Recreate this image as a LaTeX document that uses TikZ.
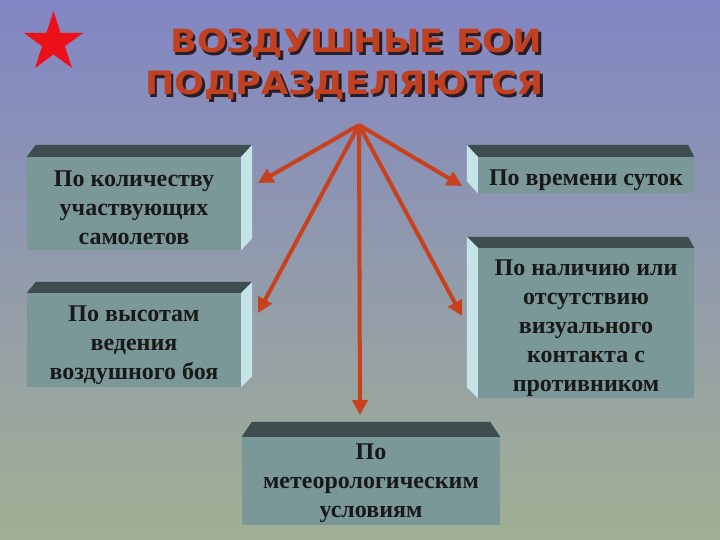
\documentclass[tikz,border=0pt]{standalone}
\usepackage{fontspec}
\setmainfont{Liberation Serif}
\newfontfamily\titlefont[FakeStretch=1.1]{DejaVu Sans}
\newfontfamily\boxfont{Liberation Serif}
\usetikzlibrary{arrows.meta}
\definecolor{bgtop}{RGB}{130,134,196}
\definecolor{bgbot}{RGB}{160,176,148}
\definecolor{frontc}{RGB}{122,152,152}
\definecolor{topc}{RGB}{62,78,78}
\definecolor{sidec}{RGB}{196,228,232}
\definecolor{arrowc}{RGB}{200,64,28}
\definecolor{titlec}{RGB}{192,64,32}
\definecolor{shadowc}{RGB}{40,30,40}
\definecolor{starc}{RGB}{236,16,24}
\newcommand\shadowed[1]{\makebox[0pt][l]{\hspace{2.5pt}\raisebox{-2.5pt}{\color{shadowc}#1}}#1}
\tikzset{
  frontbox/.style={fill=frontc, inner sep=0pt},
  boxtext/.style={inner sep=0pt, align=center, text=black!90,
    font=\boxfont\bfseries\fontsize{24}{29}\selectfont},
  topface/.style={fill=topc},
  sideface/.style={fill=sidec},
  arr/.style={draw=arrowc, line width=4pt, -{Triangle[length=15pt,width=15pt]}},
  titletext/.style={text=titlec, inner sep=0pt, font=\titlefont\bfseries\fontsize{32}{36}\selectfont},
}
\begin{document}
\begin{tikzpicture}[x=1pt,y=-1pt]
\useasboundingbox (0,0) rectangle (720,540);
\shade[top color=bgtop, bottom color=bgbot] (0,0) rectangle (720,540);

% star
\begin{scope}[shift={(53.5,42.5)}]
\fill[starc] (-90:31.5) -- (-54:12) -- (-18:31.5) -- (18:12) -- (54:31.5) -- (90:12)
  -- (126:31.5) -- (162:12) -- (198:31.5) -- (234:12) -- cycle;
\end{scope}

% title
\node[titletext, anchor=base west] (t1) at (170,53) {\shadowed{ВОЗДУШНЫЕ БОИ}};
\node[titletext, anchor=base west] (t2) at (145,95) {\shadowed{ПОДРАЗДЕЛЯЮТСЯ}};

% boxes
\node[frontbox, minimum width=214pt, minimum height=93pt] (b1) at (134,203.5) {};
\fill[topface] (b1.north west) -- ([shift={(9,-12)}]b1.north west) -- ([shift={(11,-12)}]b1.north east) -- (b1.north east) -- cycle;
\fill[sideface] (b1.north east) -- ([shift={(11,-12)}]b1.north east) -- ([shift={(11,-12)}]b1.south east) -- (b1.south east) -- cycle;
\node[boxtext] (b1t) at ([shift={(0,4)}]b1.center) {По количеству\\участвующих\\самолетов};

\node[frontbox, minimum width=214pt, minimum height=94pt] (b2) at (134,340) {};
\fill[topface] (b2.north west) -- ([shift={(9,-11)}]b2.north west) -- ([shift={(11,-11)}]b2.north east) -- (b2.north east) -- cycle;
\fill[sideface] (b2.north east) -- ([shift={(11,-11)}]b2.north east) -- ([shift={(11,-11)}]b2.south east) -- (b2.south east) -- cycle;
\node[boxtext] (b2t) at ([shift={(0,5)}]b2.center) {По высотам\\ведения\\воздушного боя};

\node[frontbox, minimum width=216pt, minimum height=36pt] (b3) at (586,175) {};
\fill[topface] (b3.north west) -- ([shift={(-11,-12)}]b3.north west) -- ([shift={(-6,-12)}]b3.north east) -- (b3.north east) -- cycle;
\fill[sideface] (b3.north west) -- ([shift={(-11,-12)}]b3.north west) -- ([shift={(-11,-12)}]b3.south west) -- (b3.south west) -- cycle;
\node[boxtext] (b3t) at ([shift={(0,5)}]b3.center) {По времени суток};

\node[frontbox, minimum width=216pt, minimum height=150pt] (b4) at (586,323) {};
\fill[topface] (b4.north west) -- ([shift={(-11,-11)}]b4.north west) -- ([shift={(-6,-11)}]b4.north east) -- (b4.north east) -- cycle;
\fill[sideface] (b4.north west) -- ([shift={(-11,-11)}]b4.north west) -- ([shift={(-11,-11)}]b4.south west) -- (b4.south west) -- cycle;
\node[boxtext] (b4t) at ([shift={(0,5)}]b4.center) {По наличию или\\отсутствию\\визуального\\контакта с\\противником};

\node[frontbox, minimum width=258pt, minimum height=88pt] (b5) at (371,481) {};
\fill[topface] (b5.north west) -- ([shift={(10,-15)}]b5.north west) -- ([shift={(-10,-15)}]b5.north east) -- (b5.north east) -- cycle;
\node[boxtext] (b5t) at ([shift={(0,2)}]b5.center) {По\\метеорологическим\\условиям};

% arrows
\coordinate (apex) at (359,125);
\coordinate (e1) at (258,183);
\coordinate (e2) at (258,313);
\coordinate (e3) at (360,415);
\coordinate (e4) at (462,186);
\coordinate (e5) at (462,316);
\draw[arr] (apex) -- (e1);
\draw[arr] (apex) -- (e2);
\draw[arr] (apex) -- (e3);
\draw[arr] (apex) -- (e4);
\draw[arr] (apex) -- (e5);
\end{tikzpicture}
\end{document}
